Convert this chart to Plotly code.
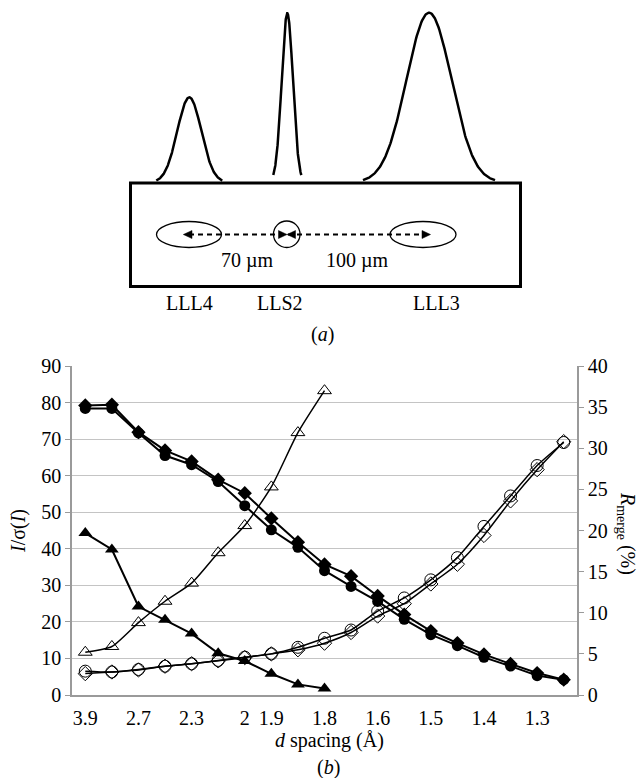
import numpy as np
import plotly.graph_objects as go

W, H = 641, 778
FONT = "Liberation Serif"

# ---------------- panel (b) data ----------------
d_labels = ["3.9", "", "2.7", "", "2.3", "", "2", "1.9", "", "1.8",
            "", "1.6", "", "1.5", "", "1.4", "", "1.3", ""]
shell = list(range(len(d_labels)))

isig_filled_circle = [78.4, 78.4, 71.7, 65.5, 63.0, 58.4, 51.8, 45.2, 40.4, 34.0,
                      29.7, 25.6, 20.7, 16.5, 13.5, 10.3, 7.9, 5.3, 4.2]
isig_filled_diamond = [79.2, 79.4, 71.9, 66.9, 63.9, 58.9, 55.2, 48.3, 41.8, 35.7,
                       32.5, 27.1, 22.0, 17.5, 14.2, 11.1, 8.5, 6.0, 4.2]
isig_filled_triangle = [44.3, 39.8, 24.2, 20.6, 16.8, 11.4, 9.3, 5.8, 2.9, 1.8]

rmerge_open_circle = [2.9, 2.8, 3.1, 3.5, 3.8, 4.2, 4.6, 5.0, 5.8, 6.9,
                      7.9, 10.2, 11.8, 14.0, 16.7, 20.5, 24.2, 27.9, 30.7]
rmerge_open_diamond = [2.6, 2.8, 3.05, 3.5, 3.8, 4.15, 4.55, 5.0, 5.5, 6.3,
                       7.6, 9.6, 11.1, 13.5, 15.9, 19.4, 23.6, 27.4, 30.8]
rmerge_open_triangle = [5.2, 5.9, 8.8, 11.4, 13.6, 17.3, 20.6, 25.3, 31.9, 37.0]

tick_idx = [i for i, t in enumerate(d_labels) if t]
tick_txt = [d_labels[i] for i in tick_idx]

# ---------------- panel (a) schematic parameters (pixel space) ----------------
beam_names = ["LLL4", "LLS2", "LLL3"]
peak_centers = [189.3, 287.3, 429.0]
peak_tops = [97.3, 13.3, 12.7]
peak_sigmas = [12.0, 5.6, 22.5]
peak_halfbase = [33.0, 14.0, 66.0]
baseline = 182.5

fig = go.Figure()

# ----- main chart traces -----
line_k = dict(color="black", width=2)
open_line = dict(color="black", width=1.5, shape="spline", smoothing=0.6)
fig.add_trace(go.Scatter(x=shell[:len(rmerge_open_triangle)], y=rmerge_open_triangle,
                         yaxis="y2", mode="lines+markers", line=open_line,
                         marker=dict(symbol="triangle-up-open", size=12, color="black",
                                     line=dict(width=1))))
fig.add_trace(go.Scatter(x=shell, y=rmerge_open_circle, yaxis="y2", mode="lines+markers",
                         line=open_line,
                         marker=dict(symbol="circle-open", size=12, color="black",
                                     line=dict(width=1))))
fig.add_trace(go.Scatter(x=shell, y=rmerge_open_diamond, yaxis="y2", mode="lines+markers",
                         line=open_line,
                         marker=dict(symbol="diamond-open", size=11, color="black",
                                     line=dict(width=1))))
fig.add_trace(go.Scatter(x=shell[:len(isig_filled_triangle)], y=isig_filled_triangle,
                         mode="lines+markers", line=line_k,
                         marker=dict(symbol="triangle-up", size=12, color="black")))
fig.add_trace(go.Scatter(x=shell, y=isig_filled_circle, mode="lines+markers", line=line_k,
                         marker=dict(symbol="circle", size=11, color="black")))
fig.add_trace(go.Scatter(x=shell, y=isig_filled_diamond, mode="lines+markers", line=line_k,
                         marker=dict(symbol="diamond", size=11, color="black")))

# ----- schematic peaks (pixel overlay axes) -----
for c, top, s, hb in zip(peak_centers, peak_tops, peak_sigmas, peak_halfbase):
    xs = np.linspace(c - hb, c + hb, 200)
    ys = baseline - (baseline - top) * np.exp(-((xs - c) ** 2) / (2 * s * s))
    fig.add_trace(go.Scatter(x=xs, y=ys, xaxis="x3", yaxis="y3", mode="lines",
                             line=dict(color="black", width=2.5), hoverinfo="skip"))

shapes = []
shapes.append(dict(type="rect", xref="x3", yref="y3", x0=130.5, x1=520.5, y0=183, y1=286.5,
                   line=dict(color="black", width=3)))
shapes.append(dict(type="line", xref="x3", yref="y3", x0=189, x1=424, y0=234.5, y1=234.5,
                   line=dict(color="black", width=2, dash="5px,4px")))
for (x0, x1, y0, y1) in [(156.5, 221.5, 221.5, 247.5), (273.5, 300, 221, 247.5),
                         (390, 456, 221.5, 247.5)]:
    shapes.append(dict(type="circle", xref="x3", yref="y3", x0=x0, x1=x1, y0=y0, y1=y1,
                       line=dict(color="black", width=1.3)))
yc = 234.5
for tip, base in [(183.3, 192.0), (287.0, 278.5), (287.0, 295.5), (430.5, 422.0)]:
    shapes.append(dict(type="path", xref="x3", yref="y3",
                       path=f"M {tip},{yc} L {base},{yc-4} L {base},{yc+4} Z",
                       fillcolor="black", line=dict(color="black", width=0.5)))

annots = []
def txt(x, y, s, size=20, angle=0):
    annots.append(dict(x=x, y=y, xref="x3", yref="y3", text=s, showarrow=False,
                       xanchor="center", yanchor="middle", textangle=angle,
                       font=dict(family=FONT, size=size, color="black")))

txt(247.5, 260, "70 µm")
txt(357, 260, "100 µm")
for name, xb in zip(beam_names, [189.5, 280, 436]):
    txt(xb, 303, name)
txt(322, 334, "(<i>a</i>)")
txt(329, 740, "<i>d</i> spacing (Å)")
txt(328, 767, "(<i>b</i>)")
txt(18, 531, "<i>I</i>/σ(<i>I</i>)", angle=-90)
txt(627, 533, "<i>R</i><sub>merge</sub> (%)", angle=90)

x0p, x1p, ytop, ybot = 72, 577, 366, 695
tickfont = dict(family=FONT, size=20, color="black")
fig.update_layout(
    width=W, height=H, autosize=False,
    margin=dict(l=0, r=0, t=0, b=0, pad=0, autoexpand=False),
    paper_bgcolor="white", plot_bgcolor="rgba(0,0,0,0)",
    showlegend=False,
    xaxis=dict(domain=[x0p / W, x1p / W], range=[-0.5, 18.5], anchor="y",
               tickmode="array", tickvals=tick_idx, ticktext=tick_txt,
               showgrid=False, zeroline=False, showline=True, linecolor="#9a9a9a",
               linewidth=1.5, ticks="outside", ticklen=4, tickcolor="rgba(0,0,0,0)",
               tickfont=tickfont, automargin=False),
    yaxis=dict(domain=[1 - ybot / H, 1 - ytop / H], range=[0, 90], dtick=10, anchor="x",
               showgrid=True, gridcolor="#c4c4c4", gridwidth=1, zeroline=False,
               showline=True, linecolor="#9a9a9a", linewidth=1.5,
               ticks="outside", ticklen=5, tickcolor="#9a9a9a", tickfont=tickfont,
               automargin=False),
    yaxis2=dict(overlaying="y", side="right", range=[0, 40], dtick=5, anchor="x",
                showgrid=False, zeroline=False, showline=True, linecolor="#9a9a9a",
                linewidth=1.5, ticks="outside", ticklen=5, tickcolor="#9a9a9a",
                tickfont=tickfont, automargin=False),
    xaxis3=dict(domain=[0, 1], range=[0, W], visible=False, anchor="y3", fixedrange=True,
                automargin=False),
    yaxis3=dict(domain=[0, 1], range=[H, 0], visible=False, anchor="x3", fixedrange=True,
                automargin=False),
    shapes=shapes, annotations=annots,
)

fig.write_html("out.html")
